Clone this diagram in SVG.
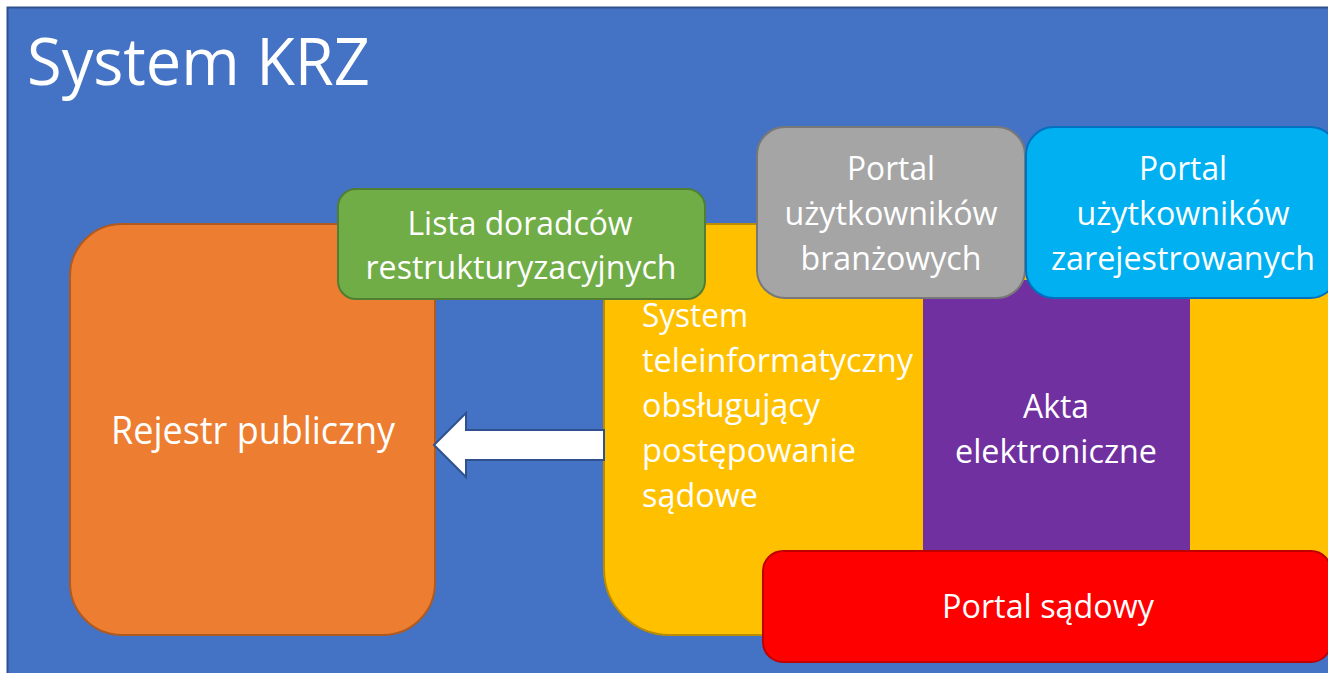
<svg xmlns="http://www.w3.org/2000/svg" width="1328" height="673" viewBox="0 0 1328 673">
<style>
text{font-family:"Open Sans","Noto Sans","Liberation Sans",sans-serif;fill:#fff;}
.t{font-size:32px;}
.c{text-anchor:middle;}
</style>
<rect x="0" y="0" width="1328" height="673" fill="#ffffff"/>
<g id="background">
<rect x="7.5" y="7.5" width="1340" height="680" fill="#4472C4" stroke="#2F528F" stroke-width="2"/>
<text x="27" y="85" font-size="66" textLength="343" lengthAdjust="spacingAndGlyphs">System KRZ</text>
</g>
<g id="rejestr">
<rect x="70" y="224" width="365" height="411" rx="52" fill="#ED7D31" stroke="#AE5A21" stroke-width="2"/>
<text x="253" y="444" font-size="38" class="c" textLength="284" lengthAdjust="spacingAndGlyphs">Rejestr publiczny</text>
</g>
<g id="system-tele">
<rect x="604" y="224" width="780" height="411" rx="66" fill="#FFC000" stroke="#BC8C00" stroke-width="2"/>
<text class="t" x="642" y="327" textLength="106" lengthAdjust="spacingAndGlyphs">System</text>
<text class="t" x="642" y="372" textLength="271" lengthAdjust="spacingAndGlyphs">teleinformatyczny</text>
<text class="t" x="642" y="417" textLength="178" lengthAdjust="spacingAndGlyphs">obsługujący</text>
<text class="t" x="642" y="462" textLength="214" lengthAdjust="spacingAndGlyphs">postępowanie</text>
<text class="t" x="642" y="507" textLength="116" lengthAdjust="spacingAndGlyphs">sądowe</text>
</g>
<g id="akta">
<rect x="923" y="280" width="267" height="275" fill="#7030A0"/>
<text class="t c" x="1056" y="418" textLength="66" lengthAdjust="spacingAndGlyphs">Akta</text>
<text class="t c" x="1056" y="463" textLength="202" lengthAdjust="spacingAndGlyphs">elektroniczne</text>
</g>
<g id="connectors">
<path d="M604,430 L466,430 L466,413 L434,445 L466,477 L466,460 L604,460 Z" fill="#ffffff" stroke="#2F528F" stroke-width="2" stroke-linejoin="miter"/>
</g>
<g id="lista">
<rect x="338" y="189" width="367" height="110" rx="18" fill="#70AD47" stroke="#507E32" stroke-width="2"/>
<text class="t c" x="520" y="235" textLength="225" lengthAdjust="spacingAndGlyphs">Lista doradców</text>
<text class="t c" x="521" y="279" textLength="311" lengthAdjust="spacingAndGlyphs">restrukturyzacyjnych</text>
</g>
<g id="portal-branzowy">
<rect x="757" y="127" width="268" height="171" rx="28" fill="#A5A5A5" stroke="#787878" stroke-width="2"/>
<text class="t c" x="891" y="180" textLength="88" lengthAdjust="spacingAndGlyphs">Portal</text>
<text class="t c" x="891" y="225" textLength="213" lengthAdjust="spacingAndGlyphs">użytkowników</text>
<text class="t c" x="891" y="270" textLength="181" lengthAdjust="spacingAndGlyphs">branżowych</text>
</g>
<g id="portal-zarejestrowany">
<rect x="1026" y="127" width="312" height="171" rx="28" fill="#00B0F0" stroke="#0070C0" stroke-width="2"/>
<text class="t c" x="1183" y="180" textLength="88" lengthAdjust="spacingAndGlyphs">Portal</text>
<text class="t c" x="1183" y="225" textLength="213" lengthAdjust="spacingAndGlyphs">użytkowników</text>
<text class="t c" x="1183" y="270" textLength="264" lengthAdjust="spacingAndGlyphs">zarejestrowanych</text>
</g>
<g id="portal-sadowy">
<rect x="763" y="551" width="568" height="111" rx="20" fill="#FF0000" stroke="#C00000" stroke-width="2"/>
<text class="t c" x="1048" y="618" textLength="212" lengthAdjust="spacingAndGlyphs">Portal sądowy</text>
</g>
</svg>
